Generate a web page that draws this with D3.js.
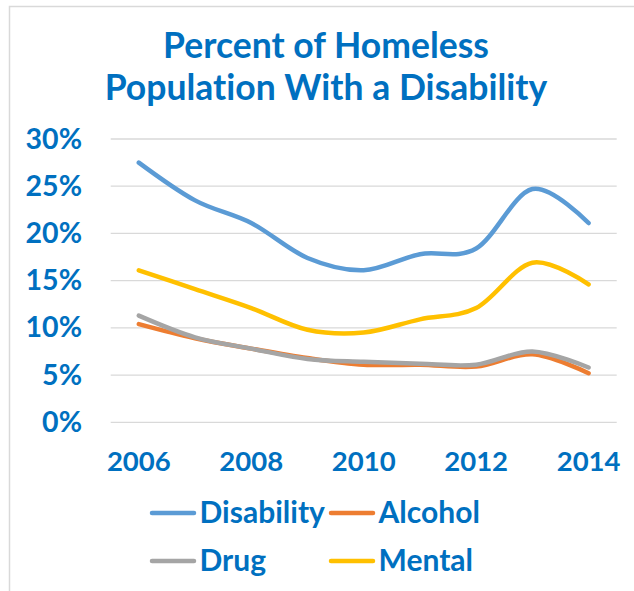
<!DOCTYPE html>
<html>
<head>
<meta charset="utf-8">
<script src="https://cdn.jsdelivr.net/npm/d3@7"></script>
<style>
  html, body { margin: 0; padding: 0; background: #fff; }
  svg { display: block; }
  text { font-family: Lato, "Open Sans", sans-serif; font-weight: bold; fill: #0070C0; font-variant-ligatures: none; font-feature-settings: "liga" 0, "clig" 0; letter-spacing: 0.01px; }
</style>
</head>
<body>
<svg id="chart" width="634" height="591"></svg>
<script>
// Survey years and share of the homeless population reporting each condition
const years = [2006, 2007, 2008, 2009, 2010, 2011, 2012, 2013, 2014];
const disability = [0.275, 0.235, 0.211, 0.174, 0.161, 0.178, 0.184, 0.247, 0.211];
const alcohol    = [0.104, 0.089, 0.078, 0.068, 0.061, 0.061, 0.059, 0.072, 0.052];
const drug       = [0.113, 0.090, 0.078, 0.067, 0.064, 0.062, 0.061, 0.075, 0.058];
const mental     = [0.161, 0.141, 0.121, 0.098, 0.095, 0.109, 0.121, 0.169, 0.146];
const yTicks = [0, 0.05, 0.10, 0.15, 0.20, 0.25, 0.30];
const xTickYears = [2006, 2008, 2010, 2012, 2014];
const titleLines = ["Percent of Homeless", "Population With a Disability"];

const seriesList = [
  { name: "Disability", values: disability, color: "#5B9BD5" },
  { name: "Alcohol",    values: alcohol,    color: "#ED7D31" },
  { name: "Drug",       values: drug,       color: "#A5A5A5" },
  { name: "Mental",     values: mental,     color: "#FFC000" }
];

const svg = d3.select("#chart");
const textColor = "#0070C0";

// outer chart border (runs off the right and bottom edges)
svg.append("rect")
  .attr("x", 9.5).attr("y", 6.5)
  .attr("width", 700).attr("height", 700)
  .attr("fill", "none").attr("stroke", "#d9d9d9").attr("stroke-width", 1.5);

// title
svg.append("g").selectAll("text")
  .data(titleLines)
  .join("text")
  .attr("x", 326)
  .attr("y", (d, i) => 57.5 + i * 42.5)
  .attr("text-anchor", "middle")
  .style("font-size", "35.5px")
  .text(d => d);

const plot = { left: 110.7, right: 616.7, top: 139, bottom: 422.3 };

const x = d3.scaleBand().domain(years).range([plot.left, plot.right]).padding(0);
const cx = d => x(d) + x.bandwidth() / 2;
const y = d3.scaleLinear().domain([0, 0.30]).range([plot.bottom, plot.top]);

// horizontal gridlines
svg.append("g").selectAll("line")
  .data(yTicks)
  .join("line")
  .attr("x1", plot.left).attr("x2", plot.right)
  .attr("y1", d => y(d)).attr("y2", d => y(d))
  .attr("stroke", "#d9d9d9").attr("stroke-width", 1.3);

// y axis labels
const yAxis = svg.append("g")
  .attr("transform", "translate(82,0)")
  .call(d3.axisLeft(y).tickValues(yTicks).tickFormat(d3.format(".0%")).tickSize(0).tickPadding(0));
yAxis.select(".domain").remove();
yAxis.selectAll("text")
  .attr("fill", textColor)
  .style("font-family", "Lato, sans-serif")
  .style("font-size", "28.5px");

// x axis labels
const xAxis = svg.append("g")
  .attr("transform", "translate(0,451.5)")
  .call(d3.axisBottom(x).tickValues(xTickYears).tickFormat(d3.format("d")).tickSize(0).tickPadding(0));
xAxis.select(".domain").remove();
xAxis.selectAll("text")
  .attr("fill", textColor)
  .attr("dy", "0.71em")
  .style("font-family", "Lato, sans-serif")
  .style("font-size", "27.5px");

// smoothed series lines
const line = d3.line()
  .x((d, i) => cx(years[i]))
  .y(d => y(d))
  .curve(d3.curveCardinal.tension(0));

svg.append("g").selectAll("path")
  .data(seriesList)
  .join("path")
  .attr("d", s => line(s.values))
  .attr("fill", "none")
  .attr("stroke", s => s.color)
  .attr("stroke-width", 4.5)
  .attr("stroke-linecap", "round")
  .attr("stroke-linejoin", "round");

// legend, two rows of two
const legendPos = [
  { lx: 152, ty: 522.5 }, { lx: 331, ty: 522.5 },
  { lx: 152, ty: 570.5 }, { lx: 331, ty: 570.5 }
];
const legend = svg.append("g").selectAll("g")
  .data(seriesList)
  .join("g")
  .attr("transform", (d, i) => `translate(${legendPos[i].lx},${legendPos[i].ty})`);
legend.append("line")
  .attr("x1", 0).attr("x2", 42)
  .attr("y1", -9.5).attr("y2", -9.5)
  .attr("stroke", d => d.color)
  .attr("stroke-width", 4.5)
  .attr("stroke-linecap", "round");
legend.append("text")
  .attr("x", 47.5)
  .attr("y", 0)
  .style("font-size", "30px")
  .text(d => d.name);
</script>
</body>
</html>
